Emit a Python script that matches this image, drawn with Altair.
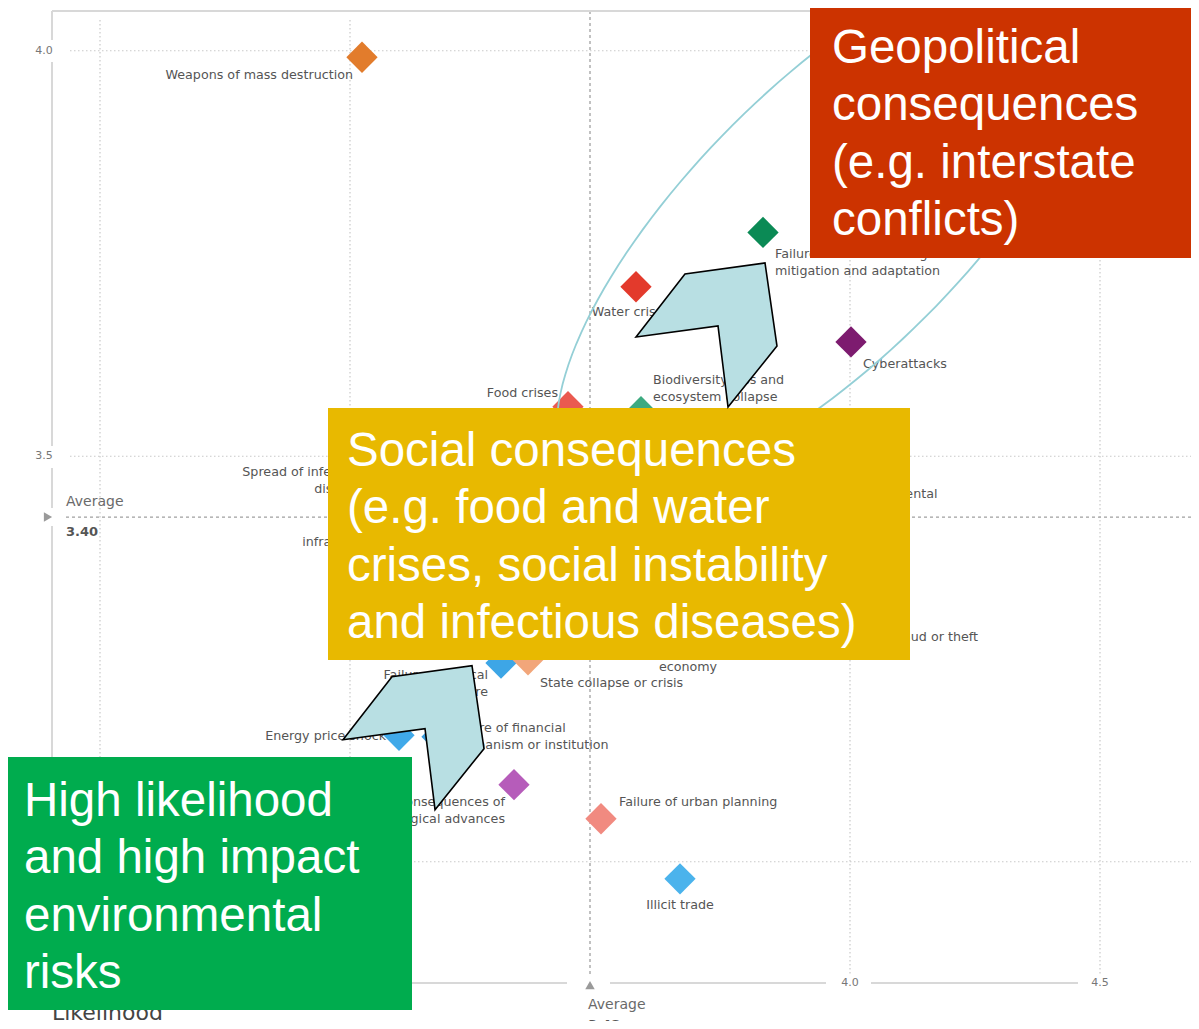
import numpy as np
import pandas as pd
import altair as alt

# ---------------- data ----------------
risks = [
    "Weapons of mass destruction",
    "Failure of climate-change mitigation and adaptation",
    "Water crises",
    "Cyberattacks",
    "Food crises",
    "Biodiversity loss and ecosystem collapse",
    "Spread of infectious diseases",
    "Man-made environmental disasters",
    "Critical information infrastructure breakdown",
    "Data fraud or theft",
    "Asset bubbles in a major economy",
    "Failure of critical infrastructure",
    "State collapse or crisis",
    "Energy price shock",
    "Failure of financial mechanism or institution",
    "Adverse consequences of technological advances",
    "Failure of urban planning",
    "Illicit trade",
]
label_text = [
    "Weapons of mass destruction",
    "Failure of climate-change\nmitigation and adaptation",
    "Water crises",
    "Cyberattacks",
    "Food crises",
    "Biodiversity loss and\necosystem collapse",
    "Spread of infectious\ndiseases",
    "Man-made environmental\ndisasters",
    "Critical information\ninfrastructure breakdown",
    "Data fraud or theft",
    "Asset bubbles in a major\neconomy",
    "Failure of critical\ninfrastructure",
    "State collapse or crisis",
    "Energy price shock",
    "Failure of financial\nmechanism or institution",
    "Adverse consequences of\ntechnological advances",
    "Failure of urban planning",
    "Illicit trade",
]
likelihood = [3.024, 3.826, 3.572, 4.002, 3.436, 3.582, 3.030, 3.824, 3.284,
              3.994, 3.676, 3.302, 3.356, 3.098, 3.174, 3.328, 3.502, 3.660]
impact = [3.992, 3.776, 3.709, 3.641, 3.561, 3.555, 3.450, 3.473, 3.412,
          3.277, 3.292, 3.245, 3.249, 3.156, 3.154, 3.095, 3.053, 2.979]
colors = ["#E27C2C", "#0B8A55", "#E33A2C", "#7D1B6F", "#EA5A50", "#3DAA80",
          "#E85A50", "#4DB88A", "#8E3F8E", "#8E3F8E", "#3A9BD9", "#3DA6E6",
          "#F2A67A", "#40A9E9", "#3A9BD9", "#B65CBA", "#F18A80", "#4BB3EC"]

avg_likelihood = 3.48
avg_impact = 3.40
avg_impact_drawn = 3.425
avg_labels = ["3.48", "3.40"]

x_tick_values = [4.0, 4.5]
x_tick_labels = ["4.0", "4.5"]
y_tick_values = [4.0, 3.5]
y_tick_labels = ["4.0", "3.5"]
grid_x = [2.5, 3.0, 4.0, 4.5]
grid_y = [4.0, 3.5, 3.0]

callout_text = [
    "Geopolitical\nconsequences\n(e.g. interstate\nconflicts)",
    "Social consequences\n(e.g. food and water\ncrises, social instability\nand infectious diseases)",
    "High likelihood\nand high impact\nenvironmental\nrisks",
]
callout_colors = ["#CC3300", "#E8B900", "#00AC4E"]

# ---------------- layout helpers ----------------
X_DOMAIN = [2.404, 4.682]
Y_DOMAIN = [2.8505, 4.049]
W, H = 1139, 972
PX_X = W / (X_DOMAIN[1] - X_DOMAIN[0])
PX_Y = H / (Y_DOMAIN[1] - Y_DOMAIN[0])

XS = alt.Scale(domain=X_DOMAIN, nice=False, zero=False)
YS = alt.Scale(domain=Y_DOMAIN, nice=False, zero=False)


def X(f="x"):
    return alt.X(f + ":Q", scale=XS, axis=None)


def Y(f="y"):
    return alt.Y(f + ":Q", scale=YS, axis=None)


# label placement (pixel offsets of first-line centre from the diamond)
label_dx = [-9, 12, -5, 12, -10, 12, 4, 12, -29, 12, 0, -13, 12, -13, 13, -9, 18, 0]
label_dy = [18, 22, 25, 22, -14, -32, -25, 16, -3, 0, 25, 12, 23, 1, -9, 17, -17, 26]
label_align = ["right", "left", "center", "left", "right", "left", "right", "left", "right",
               "left", "center", "right", "left", "right", "left", "right", "left", "center"]

pts = pd.DataFrame({"risk": risks, "x": likelihood, "y": impact, "color": colors})
labs = pd.DataFrame({
    "text": label_text,
    "x": [a + d / PX_X for a, d in zip(likelihood, label_dx)],
    "y": [b - (d - 6) / PX_Y for b, d in zip(impact, label_dy)],
    "align": label_align,
})

layers = []

# grid
gv = pd.DataFrame({"x": grid_x, "y": 4.038, "y2": 2.86})
layers.append(alt.Chart(gv).mark_rule(color="#c9c9c9", strokeWidth=1.2, strokeDash=[1.5, 2.5])
              .encode(x=X(), y=Y(), y2="y2:Q"))
gh = pd.DataFrame({"y": grid_y, "x": 2.44, "x2": 4.698})
layers.append(alt.Chart(gh).mark_rule(color="#c9c9c9", strokeWidth=1.2, strokeDash=[1.5, 2.5])
              .encode(y=Y(), x=X(), x2="x2:Q"))

# average lines
avh = pd.DataFrame({"y": [avg_impact_drawn], "x": [2.432], "x2": [4.698]})
layers.append(alt.Chart(avh).mark_rule(color="#a0a0a0", strokeWidth=1.3, strokeDash=[3, 3])
              .encode(y=Y(), x=X(), x2="x2:Q"))
avv = pd.DataFrame({"x": [avg_likelihood], "y": [4.049], "y2": [2.86]})
layers.append(alt.Chart(avv).mark_rule(color="#a0a0a0", strokeWidth=1.3, strokeDash=[3, 3])
              .encode(x=X(), y=Y(), y2="y2:Q"))

# axis lines (broken around labels)
axv = pd.DataFrame({"x": 2.404, "y": [4.049, 3.9861, 3.4855, 3.4140],
                    "y2": [4.0132, 3.5126, 3.4362, 2.8505]})
layers.append(alt.Chart(axv).mark_rule(color="#d8d8d8", strokeWidth=2)
              .encode(x=X(), y=Y(), y2="y2:Q"))
axh = pd.DataFrame({"y": [2.8505, 2.8505, 2.8505, 4.049],
                    "x": [2.404, 3.52, 4.042, 2.404], "x2": [3.434, 3.952, 4.456, 4.698]})
layers.append(alt.Chart(axh).mark_rule(color="#d8d8d8", strokeWidth=2)
              .encode(y=Y(), x=X(), x2="x2:Q"))

# tick labels
tl = pd.DataFrame({"x": 2.388, "y": y_tick_values, "t": y_tick_labels})
layers.append(alt.Chart(tl).mark_text(font="DejaVu Sans", fontSize=11, color="#777",
                                      align="center", baseline="middle")
              .encode(x=X(), y=Y(), text="t:N"))
tb = pd.DataFrame({"x": x_tick_values, "y": 2.8505, "t": x_tick_labels})
layers.append(alt.Chart(tb).mark_text(font="DejaVu Sans", fontSize=11, color="#777",
                                      align="center", baseline="middle")
              .encode(x=X(), y=Y(), text="t:N"))

# average markers and labels
tri = pd.DataFrame({"x": [2.396, avg_likelihood], "y": [avg_impact_drawn, 2.848],
                    "shape": ["triangle-right", "triangle-up"]})
layers.append(alt.Chart(tri).mark_point(filled=True, color="#9a9a9a", size=90, opacity=1)
              .encode(x=X(), y=Y(), shape=alt.Shape("shape:N", scale=None)))
avt = pd.DataFrame({"x": [2.432, avg_likelihood - 0.004], "y": [3.4436, 2.8233],
                    "t": ["Average", "Average"]})
layers.append(alt.Chart(avt).mark_text(font="DejaVu Sans", fontSize=14, color="#6a6a6a",
                                       align="left", baseline="middle")
              .encode(x=X(), y=Y(), text="t:N"))
avn = pd.DataFrame({"x": [avg_likelihood - 0.004, 2.432], "y": [2.7986, 3.4066], "t": avg_labels})
layers.append(alt.Chart(avn).mark_text(font="DejaVu Sans", fontSize=13, color="#555",
                                       fontWeight="bold", align="left", baseline="middle")
              .encode(x=X(), y=Y(), text="t:N"))
axt = pd.DataFrame({"x": [2.404], "y": [2.814], "t": ["Likelihood"]})
layers.append(alt.Chart(axt).mark_text(font="DejaVu Sans", fontSize=22, color="#444",
                                       align="left", baseline="middle")
              .encode(x=X(), y=Y(), text="t:N"))

# diamonds
layers.append(alt.Chart(pts).mark_point(shape="diamond", filled=True, size=980, opacity=1)
              .encode(x=X(), y=Y(), color=alt.Color("color:N", scale=None), tooltip="risk:N"))

# labels
for al in ["left", "right", "center"]:
    sub = labs[labs["align"] == al]
    layers.append(alt.Chart(sub).mark_text(font="DejaVu Sans", fontSize=12.7, color="#555",
                                           align=al, baseline="top", lineBreak="\n", lineHeight=17)
                  .encode(x=X(), y=Y(), text="text:N"))

# ellipse outline
RATIO = 136 / 360
t = np.linspace(0, 2 * np.pi, 145)
ex, ey = np.cos(t), RATIO * np.sin(t)
c45 = s45 = np.sqrt(0.5)
EX = ex * c45 + ey * s45
EY = -ex * s45 + ey * c45
ell_path = "M " + " L ".join(f"{a:.4f} {b:.4f}" for a, b in zip(EX, EY)) + " Z"
ell = pd.DataFrame({"x": [3.958], "y": [3.790]})
layers.append(alt.Chart(ell).mark_point(shape=ell_path, filled=False, stroke="#94CFD6",
                                        strokeWidth=1.8, size=720 ** 2, opacity=1)
              .encode(x=X(), y=Y()))

# callout boxes
boxes = pd.DataFrame({
    "x": [3.920, 2.956, 2.306], "x2": [4.698, 4.120, 3.124],
    "y": [4.06, 3.5595, 3.1292], "y2": [3.7444, 3.2488, 2.8172],
    "color": callout_colors,
})
layers.append(alt.Chart(boxes).mark_rect(opacity=1)
              .encode(x=X(), x2="x2:Q", y=Y(), y2="y2:Q", color=alt.Color("color:N", scale=None)))
btxt = pd.DataFrame({"x": [3.964, 2.994, 2.348], "y": [4.0317, 3.5348, 3.1033], "t": callout_text})
layers.append(alt.Chart(btxt).mark_text(font="Liberation Sans", fontSize=47.5, color="white",
                                        align="left", baseline="top", lineBreak="\n", lineHeight=57.3)
              .encode(x=X(), y=Y(), text="t:N"))

# chevron arrows
arrow_pts = [(-0.979, 0.028), (-0.299, -0.847), (0.8125, -1.0), (0.979, 0.153),
             (0.299, 1.0), (0.160, -0.125)]
arrow_path = "M " + " L ".join(f"{a} {b}" for a, b in arrow_pts) + " Z"
arr = pd.DataFrame({"x": [3.713, 3.127], "y": [3.6495, 3.153]})
layers.append(alt.Chart(arr).mark_point(shape=arrow_path, filled=True, fill="#B8DFE3",
                                        stroke="black", strokeWidth=1.6, size=144 ** 2, opacity=1)
              .encode(x=X(), y=Y()))

chart = alt.layer(*layers).properties(
    width=W, height=H,
    padding={"left": 44, "top": 3, "right": 0, "bottom": 38},
    autosize=alt.AutoSizeParams(type="none"),
    background="white",
).configure_view(stroke=None)

chart.save("out.html", embed_options={"renderer": "svg", "actions": False})
